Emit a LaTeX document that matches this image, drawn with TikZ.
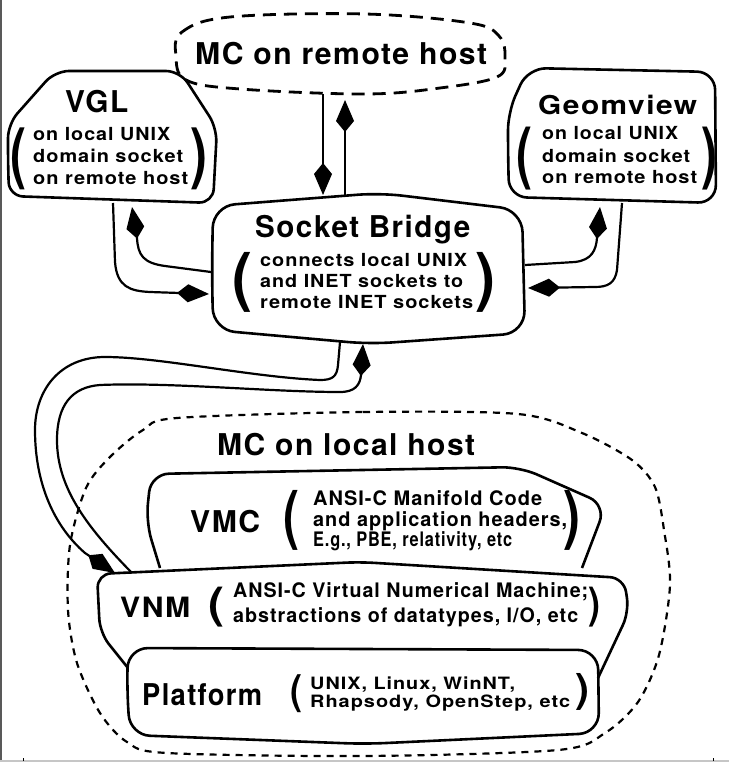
\documentclass[tikz,border=0pt]{standalone}
\usepackage{fontspec}
\usepackage{graphicx}
\setmainfont{TeX Gyre Heros}
\newfontfamily\hvs{TeX Gyre Heros}[LetterSpace=5]
\usetikzlibrary{arrows.meta}
\newcommand\tw[3]{\resizebox{#1pt}{\height}{\fontsize{#2pt}{#2pt}\selectfont #3}}
\newcommand\pb[3]{\resizebox*{#1pt}{#2pt}{\fontsize{40pt}{40pt}\selectfont #3}}
\begin{document}
\begin{tikzpicture}[x=1pt,y=-1pt,
  box/.style={line width=2.6pt, line join=round},
  conn/.style={line width=2.2pt},
  kite/.style={-{Kite[length=32pt,width=18pt,inset=11pt]}},
  dashA/.style={line width=2.8pt, dash pattern=on 13pt off 8pt},
  dashB/.style={line width=2.2pt, dash pattern=on 7pt off 6pt},
  txt/.style={anchor=base west, inner sep=0pt, font=\hvs\bfseries},
  pr/.style={inner sep=0pt, font=\bfseries}]
\useasboundingbox (0,0) rectangle (729,762);
\fill[white] (0,0) rectangle (729,762);
% frame
\draw[gray!70!black, line width=1.5pt] (0.75,0) -- (0.75,761);
\draw[gray!45, line width=1.2pt] (0,761) -- (729,761);
\draw[line width=1pt] (23,758) -- (23,760.5);
\draw[line width=1pt] (713,758) -- (713,760.5);

% MC on remote host
\draw[dashA] plot[smooth cycle, tension=0.6] coordinates {(176,56) (182,32) (230,17) (365,14) (470,23) (499,36) (505,58) (497,77) (440,88) (365,94) (240,89) (186,80)};
\node[txt] (mcr) at (195,65) {\tw{292}{30}{MC on remote host}};

% VGL
\draw[box, rounded corners=14pt] (8,160) -- (8,124) -- (55,71) -- (180,71) -- (217,128) -- (213,203) -- (9,196) -- cycle;
\node[txt] (vgl) at (65,113) {\tw{63}{30}{VGL}};
\node[txt] (vgl1) at (33,141) {\tw{137}{18}{on local UNIX}};
\node[txt] (vgl2) at (33,163) {\tw{150}{18}{domain socket}};
\node[txt] (vgl3) at (33,185) {\tw{155}{18}{on remote host}};
\node[pr] (vglL) at (19,159) {\pb{16}{62}{(}};
\node[pr] (vglR) at (198.5,159) {\pb{17}{62}{)}};

% Geomview
\draw[box, rounded corners=18pt] (508,150) -- (508,112) -- (528,68) -- (715,72) -- (716,203) -- (509,197) -- cycle;
\node[txt] (geo) at (538,115) {\tw{159}{26}{Geomview}};
\node[txt] (geo1) at (542,140) {\tw{136}{18}{on local UNIX}};
\node[txt] (geo2) at (542,163) {\tw{148}{18}{domain socket}};
\node[txt] (geo3) at (542,184) {\tw{155}{18}{on remote host}};
\node[pr] (geoL) at (524,158.5) {\pb{16}{63}{(}};
\node[pr] (geoR) at (709,158.5) {\pb{16}{63}{)}};

% Socket Bridge
\draw[box, rounded corners=22pt] (212,270) -- (213,206) -- (380,193) -- (522,210) -- (525,333) -- (370,344) -- (213,330) -- cycle;
\node[txt] (sb) at (255,237) {\tw{215}{30}{Socket Bridge}};
\node[txt] (sb1) at (260,266) {\tw{207}{18}{connects local UNIX}};
\node[txt] (sb2) at (260,287) {\tw{203}{18}{and INET sockets to}};
\node[txt] (sb3) at (260,308) {\tw{213}{18}{remote INET sockets}};
\node[pr] (sbL) at (242.5,282) {\pb{20}{60}{(}};
\node[pr] (sbR) at (485.5,282) {\pb{20}{60}{)}};

% MC on local host
\draw[dashB] plot[smooth cycle, tension=0.5] coordinates {(177,418) (363,412) (518,414) (582,433) (632,460) (655,487) (664,530) (670,585) (659,655) (638,702) (605,733) (558,750) (365,756) (167,753) (127,742) (100,713) (77,663) (68,610) (70,545) (86,488) (110,457) (143,430)};
\node[txt] (mcl) at (217,455) {\tw{258}{30}{MC on local host}};

% VMC
\draw[box, rounded corners=18pt] (160,568) -- (146,522) -- (151,474) -- (520,467) -- (606,505) -- (582,568);
\node[txt] (vmc) at (190,532) {\tw{70}{30}{VMC}};
\node[txt] (vmc1) at (313,505) {\tw{229}{20}{ANSI-C Manifold Code}};
\node[txt] (vmc2) at (313,526) {\tw{254}{20}{and application headers,}};
\node[txt] (vmc3) at (313,546) {\tw{199}{20}{E.g., PBE, relativity, etc}};
\node[pr] (vmcL) at (291,520) {\pb{16}{60}{(}};
\node[pr] (vmcR) at (571.5,520) {\pb{17}{60}{)}};

% VNM
\draw[box, rounded corners=14pt] (128,668) -- (100,633) -- (97,574) -- (360,562) -- (624,578) -- (629,612) -- (598,678);
\node[txt] (vnm) at (120,617) {\tw{70}{28}{VNM}};
\node[txt] (vnm1) at (233,597) {\tw{355}{20}{ANSI-C Virtual Numerical Machine;}};
\node[txt] (vnm2) at (233,622) {\tw{345}{20}{abstractions of datatypes, I/O, etc}};
\node[pr] (vnmL) at (216,607) {\pb{16}{40}{(}};
\node[pr] (vnmR) at (594,607) {\pb{12}{40}{)}};

% Platform
\draw[box, rounded corners=20pt] (127,690) -- (128,648) -- (598,650) -- (599,733) -- (365,744) -- (130,735) -- cycle;
\node[txt] (plt) at (142,705) {\tw{120}{30}{Platform}};
\node[txt] (plt1) at (310,689) {\tw{205}{17}{UNIX, Linux, WinNT,}};
\node[txt] (plt2) at (310,707) {\tw{260}{17}{Rhapsody, OpenStep, etc}};
\node[pr] (pltL) at (296,694) {\pb{12}{38}{(}};
\node[pr] (pltR) at (582,691.5) {\pb{14}{37}{)}};

% connector end points
\coordinate (mcrB1) at (323,94);
\coordinate (sbT1) at (323,195);
\coordinate (sbT2) at (345,196);
\coordinate (mcrB2) at (345,100);
\coordinate (vglB1) at (113,203);
\coordinate (sbL1) at (209,294);
\coordinate (sbL2) at (211,272);
\coordinate (vglB2) at (132,207);
\coordinate (sbR1) at (525,265);
\coordinate (geoB1) at (600,207);
\coordinate (geoB2) at (622,203);
\coordinate (sbR2) at (528,288);
\coordinate (sbB1) at (340,342);
\coordinate (vnmT1) at (115,573);
\coordinate (vnmT2) at (132,573);
\coordinate (sbB2) at (363,344);

% connectors
\draw[conn, kite] (mcrB1) -- (sbT1);
\draw[conn, kite] (sbT2) -- (mcrB2);
\draw[conn, kite] (vglB1) -- (115,262) .. controls (117,287) and (130,291) .. (150,292) -- (sbL1);
\draw[conn, kite] (sbL2) -- (165,266) .. controls (143,263) and (138,255) .. (137,238) -- (vglB2);
\draw[conn, kite] (sbR1) -- (575,262) .. controls (592,260) and (596,250) .. (597,238) -- (geoB1);
\draw[conn, kite] (geoB2) -- (617,270) .. controls (615,283) and (608,287) .. (595,287) -- (sbR2);
\draw[conn, kite] (sbB1) -- (338,365) .. controls (337,377) and (332,380) .. (320,380)
   .. controls (250,377) and (160,357) .. (105,357)
   .. controls (60,357) and (35,390) .. (35,430)
   .. controls (35,485) and (55,527) .. (85,553) -- (vnmT1);
\draw[conn, kite] (vnmT2) .. controls (90,530) and (57,490) .. (57,440)
   .. controls (57,405) and (72,387) .. (100,385)
   .. controls (170,382) and (270,392) .. (340,392)
   .. controls (355,392) and (360,385) .. (361,375) -- (sbB2);
\end{tikzpicture}
\end{document}
